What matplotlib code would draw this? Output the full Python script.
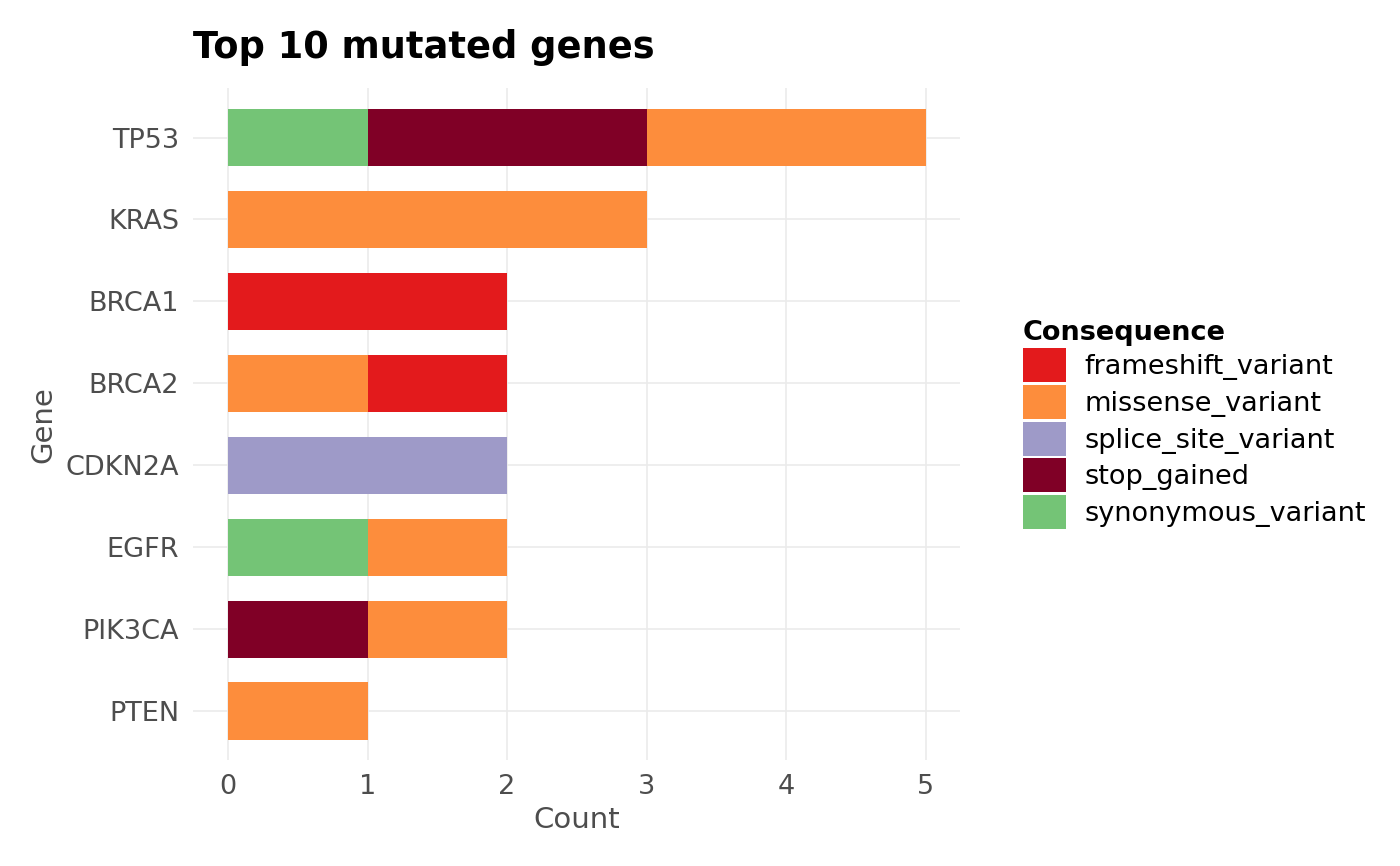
import matplotlib.pyplot as plt
from matplotlib.patches import Patch
import numpy as np

genes = ["TP53", "KRAS", "BRCA1", "BRCA2", "CDKN2A", "EGFR", "PIK3CA", "PTEN"]
consequences = ["frameshift_variant", "missense_variant", "splice_site_variant",
                "stop_gained", "synonymous_variant"]
colors = ["#E31A1C", "#FD8D3C", "#9E9AC8", "#800026", "#74C476"]
# counts per gene, columns follow consequences
frameshift = [0, 0, 2, 1, 0, 0, 0, 0]
missense = [2, 3, 0, 1, 0, 1, 1, 1]
splice = [0, 0, 0, 0, 2, 0, 0, 0]
stop = [2, 0, 0, 0, 0, 0, 1, 0]
synonymous = [1, 0, 0, 0, 0, 1, 0, 0]
counts = [frameshift, missense, splice, stop, synonymous]

fig = plt.figure(figsize=(14, 8.66), dpi=100)
ax = fig.add_axes([0.138, 0.122, 0.548, 0.776])

y = np.arange(len(genes))[::-1]
left = np.zeros(len(genes))
# stacked in reverse order like ggplot
for i in reversed(range(len(consequences))):
    vals = np.array(counts[i], dtype=float)
    ax.barh(y, vals, left=left, height=0.7, color=colors[i], linewidth=0)
    left += vals

ax.set_xlim(-0.25, 5.25)
ax.set_ylim(-0.6, len(genes) - 0.4)
ax.set_yticks(y)
ax.set_yticklabels(genes)
ax.set_xticks(range(6))
ax.grid(True, color="#EBEBEB", linewidth=1.2)
ax.set_axisbelow(True)
for s in ax.spines.values():
    s.set_visible(False)
ax.tick_params(length=0, labelsize=19.5, labelcolor="#4D4D4D", pad=10)
ax.set_xlabel("Count", fontsize=21, color="#4D4D4D", labelpad=4)
ax.set_ylabel("Gene", fontsize=21, color="#4D4D4D", labelpad=6)
ax.set_title("Top 10 mutated genes", fontsize=26.5, fontweight="bold", loc="left",
             x=0, pad=22)

handles = [Patch(facecolor=c, label=l) for c, l in zip(colors, consequences)]
leg = fig.legend(handles=handles, title="Consequence", loc="center left",
                 bbox_to_anchor=(0.713, 0.51), frameon=False, fontsize=19.5,
                 title_fontproperties={"weight": "bold", "size": 19.5},
                 handlelength=1.6, handleheight=1.55, labelspacing=0.1,
                 handletextpad=0.7, alignment="left")

fig.savefig("out.png", dpi=100, facecolor="white")
